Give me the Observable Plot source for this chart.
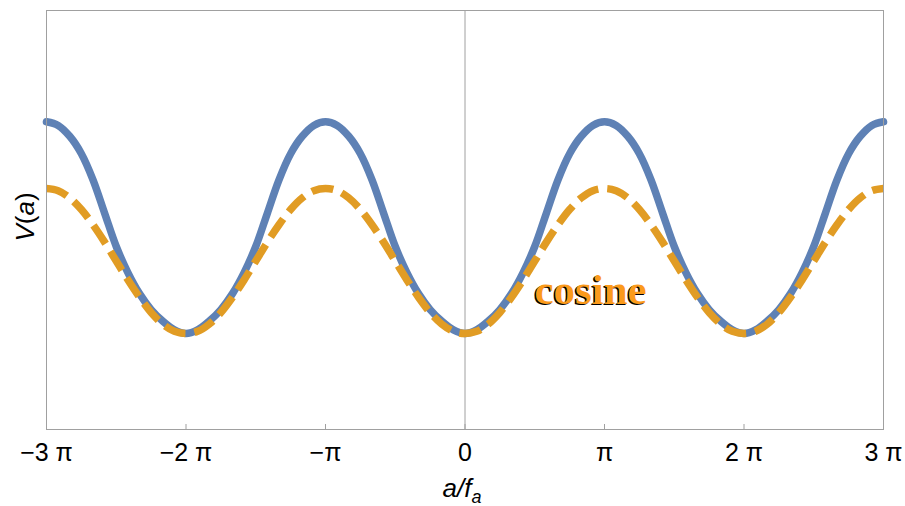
<!DOCTYPE html>
<html>
<head>
<meta charset="utf-8">
<script src="https://cdn.jsdelivr.net/npm/d3@7"></script>
<script src="https://cdn.jsdelivr.net/npm/@observablehq/plot@0.6"></script>
<style>
  html, body { margin: 0; padding: 0; background: #fff; }
  #chart { width: 905px; height: 506px; }
</style>
</head>
<body>
<div id="chart"></div>
<script>
// x positions in units of pi, sampled every pi/12 from -3pi to 3pi
const xPi = d3.range(-36, 37).map(k => k / 12);

// V(a) (solid blue curve)
const blueV = [
  2.92, 2.87, 2.72, 2.48, 2.12, 1.66, 1.20, 0.84, 0.55, 0.33, 0.17, 0.05, 0.00,
  0.05, 0.17, 0.33, 0.55, 0.84, 1.20, 1.66, 2.12, 2.48, 2.72, 2.87, 2.92,
  2.87, 2.72, 2.48, 2.12, 1.66, 1.20, 0.84, 0.55, 0.33, 0.17, 0.05, 0.00,
  0.05, 0.17, 0.33, 0.55, 0.84, 1.20, 1.66, 2.12, 2.48, 2.72, 2.87, 2.92,
  2.87, 2.72, 2.48, 2.12, 1.66, 1.20, 0.84, 0.55, 0.33, 0.17, 0.05, 0.00,
  0.05, 0.17, 0.33, 0.55, 0.84, 1.20, 1.66, 2.12, 2.48, 2.72, 2.87, 2.92
];

// V(a) (dashed orange "cosine" curve)
const cosineV = [
  2.00, 1.97, 1.87, 1.71, 1.50, 1.26, 1.00, 0.74, 0.50, 0.29, 0.13, 0.03, 0.00,
  0.03, 0.13, 0.29, 0.50, 0.74, 1.00, 1.26, 1.50, 1.71, 1.87, 1.97, 2.00,
  1.97, 1.87, 1.71, 1.50, 1.26, 1.00, 0.74, 0.50, 0.29, 0.13, 0.03, 0.00,
  0.03, 0.13, 0.29, 0.50, 0.74, 1.00, 1.26, 1.50, 1.71, 1.87, 1.97, 2.00,
  1.97, 1.87, 1.71, 1.50, 1.26, 1.00, 0.74, 0.50, 0.29, 0.13, 0.03, 0.00,
  0.03, 0.13, 0.29, 0.50, 0.74, 1.00, 1.26, 1.50, 1.71, 1.87, 1.97, 2.00
];

const xTicks = [-3, -2, -1, 0, 1, 2, 3];
const xTickLabels = ["\u22123 \u03c0", "\u22122 \u03c0", "\u2212\u03c0", "0", "\u03c0", "2 \u03c0", "3 \u03c0"];

const annotation = [{x: 0.9, y: 0.41, text: "cosine"}];

const blueData = xPi.map((x, i) => ({x, v: blueV[i]}));
const cosData = xPi.map((x, i) => ({x, v: cosineV[i]}));

const W = 905, H = 506, MT = 10, MB = 77;

const chart = Plot.plot({
  width: W,
  height: H,
  marginLeft: 46,
  marginRight: 22,
  marginTop: MT,
  marginBottom: MB,
  style: {fontFamily: "'Liberation Sans', Arial, sans-serif", background: "#fff"},
  x: {domain: [-3, 3]},
  y: {domain: [-1.324, 4.455]},
  marks: [
    Plot.ruleX([0], {stroke: "#a0a0a0", strokeWidth: 1}),
    Plot.line(blueData, {x: "x", y: "v", stroke: "#5e81b5", strokeWidth: 7.5, curve: "catmull-rom"}),
    Plot.line(cosData, {x: "x", y: "v", stroke: "#e19c24", strokeWidth: 7.5, strokeDasharray: "22,9", strokeLinecap: "butt", curve: "catmull-rom"}),
    Plot.frame({stroke: "#a0a0a0", strokeWidth: 1}),
    Plot.ruleX(xTicks, {stroke: "#a0a0a0", strokeWidth: 1, insetTop: H - MT - MB - 5}),
    Plot.axisX(xTicks, {
      anchor: "bottom",
      tickSize: 0,
      tickPadding: 14,
      tickFormat: (d) => xTickLabels[xTicks.indexOf(d)],
      fontSize: 25,
      fill: "#000",
      label: null
    }),
    Plot.axisY({ticks: [], label: null, tickSize: 0}),
    Plot.text(annotation, {x: "x", y: "y", text: "text", dx: -1.5, dy: 1.5, fill: "#000",
      fontFamily: "'Liberation Serif', 'Times New Roman', serif", fontWeight: "bold", fontSize: 43,
      textAnchor: "middle", lineAnchor: "bottom"}),
    Plot.text(annotation, {x: "x", y: "y", text: "text", fill: "#fb9a1b",
      fontFamily: "'Liberation Serif', 'Times New Roman', serif", fontWeight: "bold", fontSize: 43,
      textAnchor: "middle", lineAnchor: "bottom"})
  ]
});

const svg = d3.select(chart);
// x axis label a/f_a
const xl = svg.append("text")
  .attr("x", 462).attr("y", 497)
  .attr("text-anchor", "middle")
  .attr("font-family", "'Liberation Sans', Arial, sans-serif")
  .attr("font-size", 26).attr("font-style", "italic").attr("fill", "#000");
xl.append("tspan").text("a/f");
xl.append("tspan").attr("font-size", 18).attr("dy", 6).text("a");

// y axis label V(a)
const yl = svg.append("text")
  .attr("transform", "translate(34,217) rotate(-90)")
  .attr("text-anchor", "middle")
  .attr("font-family", "'Liberation Sans', Arial, sans-serif")
  .attr("font-size", 26).attr("fill", "#000");
yl.append("tspan").attr("font-style", "italic").text("V");
yl.append("tspan").text("(");
yl.append("tspan").attr("font-style", "italic").text("a");
yl.append("tspan").text(")");

document.getElementById("chart").appendChild(chart);
</script>
</body>
</html>
